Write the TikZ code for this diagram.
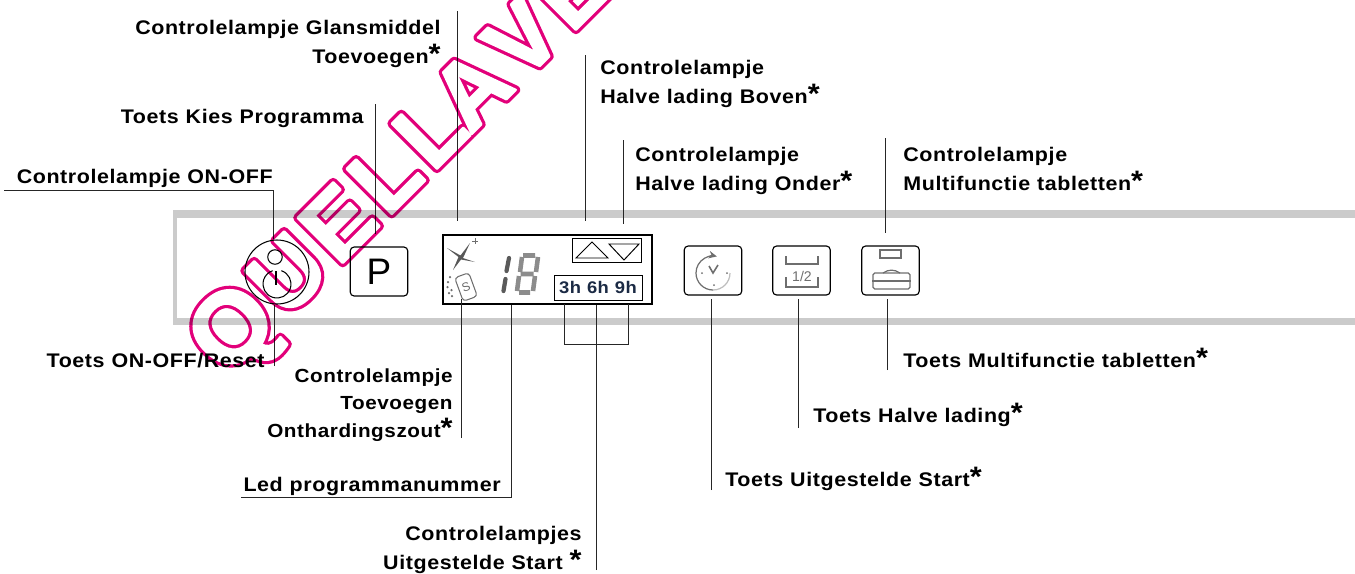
\documentclass[tikz,border=0pt]{standalone}
\usepackage{fontspec}
\setmainfont{Liberation Sans}
\newfontfamily\lblfont{Liberation Sans}[FakeStretch=1.09,LetterSpace=3,WordSpace=1.05]
\newfontfamily\wmfont{Liberation Sans}[Kerning=Off,LetterSpace=8]
\usetikzlibrary{arrows.meta,calc,fadings,positioning}
\definecolor{panelgray}{HTML}{CBCBCB}
\definecolor{icongray}{HTML}{6E6E6E}
\definecolor{segdark}{HTML}{5A5A5A}
\definecolor{seglight}{HTML}{8C8C8C}
\definecolor{hournavy}{HTML}{1B2A44}
\newcommand{\mstar}{\smash{\fontsize{16}{16}\selectfont *}}
\newcommand{\wmtext}[2]{\special{pdf:code q 2 Tr #1 w 1 j #2 RG #2 rg}{\fontsize{56.9}{56.9}\selectfont Q}\kern3pt UELL\kern-2pt AVE\special{pdf:code Q}}
\begin{document}
\begin{tikzpicture}[
    x=0.2mm,y=-0.2mm,
    lbl/.style={font=\lblfont\bfseries\fontsize{11.2}{16.4}\selectfont,inner sep=0pt},
    lblr/.style={lbl,anchor=base east,align=right},
    lbll/.style={lbl,anchor=base west,align=left},
    btn/.style={draw,rounded corners=2.2pt,line width=.65pt,inner sep=0pt,
      minimum width=11.5mm,minimum height=9.8mm},
    leader/.style={line width=.55pt,draw=black!85},
    bar/.style={fill=panelgray,draw=none},
    ico/.style={draw=icongray,line width=.7pt},
    seg/.style={line width=2.6pt,draw=seglight},
    segone/.style={line width=2.4pt,draw=segdark,line cap=round},
    wm/.style={rotate=45,anchor=base west,inner sep=0pt,font=\wmfont\bfseries\fontsize{52.7}{52.7}\selectfont}
  ]
    \useasboundingbox (0,0) rectangle (1355,573);
    % panel
    \fill[bar] (173,210) rectangle (1355,218);
    \fill[bar] (173,318) rectangle (1355,325);
    \fill[bar] (173,210) rectangle (176.5,325);

    % controls
    \node[circle,draw,line width=.6pt,minimum size=12.8mm,inner sep=0pt] (power) at (277,272) {};
    \node[circle,draw,line width=.6pt,minimum size=2.9mm,inner sep=0pt] (lamp) at (275,257) {};
    \coordinate (ring) at (277,284);
    \draw[line width=.6pt] ($(ring)+(72:2.8mm)$) arc[start angle=72,end angle=-252,radius=2.8mm];
    \draw[line width=.6pt] (276,271) -- (276,285);
    \node[btn,font=\fontsize{21}{21}\selectfont] (prog) at (379,271.5) {P};

    % display
    \node[draw,line width=.8pt,minimum width=41.8mm,minimum height=13.8mm,inner sep=0pt] (disp) at (547.5,269.5) {};
    \node[draw,line width=.5pt,minimum width=13.8mm,minimum height=4.8mm,inner sep=0pt] (arrows) at (606.5,250) {};
    \draw[line width=.55pt] (576,258) -- (592,242) -- (608,258) -- cycle;
    \draw[line width=.55pt] (609,244) -- (639,244) -- (624,260) -- cycle;
    \node[draw,line width=.5pt,minimum width=17.6mm,minimum height=5mm,inner sep=0pt,
      text=hournavy,font=\lblfont\bfseries\fontsize{9.6}{10}\selectfont] (hours) at (598,287.5) {3h 6h 9h};
    \fill[icongray!80!black] (447,248) -- (460.5,255.5) -- (470,243) -- (463,258) -- (475,262)
      -- (461,259.5) -- (453,270) -- (458.5,257) -- cycle;
    \draw[icongray,line width=.4pt] (475,238) -- (475,244) (472,241) -- (478,241);
    \node[draw=icongray,line width=.6pt,rounded corners=2pt,minimum width=3mm,minimum height=5mm,
      inner sep=0pt,rotate=20,font=\fontsize{7}{7}\selectfont,text=icongray] (salt) at (466,287) {S};
    \foreach \px/\py in {450/277,448/282,447.5/287,451.5/290,449/293,452/296}
      \fill[icongray] (\px,\py) circle (.25mm);
    \draw[segone] (509,258) -- (506.5,271);
    \draw[segone] (505.5,279) -- (503.5,291);
    \draw[seg] (523,255.5) -- (535,255.5) (538,257) -- (536,272) (535,276) -- (533,291)
      (530,292.5) -- (519,292.5) (517,291) -- (519,276) (520,272) -- (522,257) (520.5,274) -- (533.5,274);

    % right hand buttons
    \node[btn] (timer) at (713,270.5) {};
    \draw[ico,draw=icongray!45] (713,273)++(0:3.4mm) arc[start angle=0,end angle=-90,radius=3.4mm];
    \draw[ico,-{Stealth[length=1.6mm,width=1.5mm]}] (713,290) arc[start angle=-90,end angle=-283,radius=3.4mm];
    \draw[ico,line width=.9pt] (709,266) -- (713,273) -- (718,265);
    \foreach \px/\py in {702/273,727/273,714/285}
      \fill[icongray] (\px,\py) circle (.2mm);
    \node[btn] (half) at (801.5,270.5) {};
    \draw[ico] (786,256) -- (786,264) -- (818,264) -- (818,256);
    \draw[ico] (786,277) -- (786,287) -- (818,287) -- (818,277);
    \node[text=icongray,inner sep=0pt,font=\fontsize{8}{8}\selectfont] (frac) at (802,276) {1/2};
    \node[btn] (multi) at (890.5,270.5) {};
    \node[ico,draw,minimum width=4.2mm,minimum height=1.6mm,inner sep=0pt] (tablet) at (890.5,254) {};
    \node[ico,draw,rounded corners=1pt,minimum width=7.4mm,minimum height=3.2mm,inner sep=0pt] (case) at (891.5,281) {};
    \draw[ico] (case.west) -- (case.east);
    \draw[ico] (883,273) to[bend left=35] (900,273);

    % labels
    \node[lblr] (lglans) at (441,63) {Controlelampje Glansmiddel\\Toevoegen\mstar};
    \node[lblr] (lkies) at (364,123) {Toets Kies Programma};
    \node[lblr] (lon) at (273,183) {Controlelampje ON-OFF};
    \node[lblr] (lreset) at (265,367) {Toets ON-OFF/Reset};
    \node[lblr,font=\lblfont\bfseries\fontsize{10.8}{15.4}\selectfont] (lsalt) at (453,437) {Controlelampje\\Toevoegen\\Onthardingszout\mstar};
    \node[lblr] (lled) at (501,491) {Led programmanummer};
    \node[lblr] (lstart) at (582,569) {Controlelampjes\\Uitgestelde Start \mstar};
    \node[lbll] (lboven) at (600,103) {Controlelampje\\Halve lading Boven\mstar};
    \node[lbll] (londer) at (635,190) {Controlelampje\\Halve lading Onder\mstar};
    \node[lbll] (lmulti) at (903,190) {Controlelampje\\Multifunctie tabletten\mstar};
    \node[lbll] (ltoetsm) at (903,367) {Toets Multifunctie tabletten\mstar};
    \node[lbll] (ltoetsh) at (813,422) {Toets Halve lading\mstar};
    \node[lbll] (ltoetsu) at (725,486) {Toets Uitgestelde Start\mstar};

    % leaders
    \coordinate (eglans) at (457,11);
    \coordinate (ekies) at (375.7,104);
    \coordinate (eon) at (4,190);
    \coordinate (ereset) at (274.5,366);
    \coordinate (esalt) at (461,438);
    \coordinate (eled) at (241,497);
    \coordinate (ehours) at (596,570);
    \coordinate (eboven) at (585,55);
    \coordinate (eonder) at (623,140);
    \coordinate (emulti) at (885,138);
    \coordinate (etoetsm) at (887,370);
    \coordinate (etoetsh) at (798,428);
    \coordinate (etoetsu) at (711,490);
    \draw[leader,shorten >=2.6mm] (eglans) -- (eglans |- disp.north);
    \draw[leader,shorten >=2.4mm] (ekies) -- (ekies |- prog.north);
    \draw[leader] (eon) -| (power.north -| 273,0);
    \draw[leader] (ereset) -- (ereset |- power.south);
    \draw[leader] (esalt) -- (esalt |- salt.south);
    \draw[leader] (eled) -| (disp.south -| 511.5,0);
    \draw[leader] (ehours) -- (ehours |- disp.south);
    \draw[leader] (564,304) |- (628,344) -- (628,304);
    \draw[leader,shorten >=2.6mm] (eboven) -- (eboven |- disp.north);
    \draw[leader,shorten >=2mm] (eonder) -- (eonder |- disp.north);
    \draw[leader,shorten >=2.4mm] (emulti) -- (emulti |- multi.north);
    \draw[leader,shorten >=.6mm] (etoetsm) -- (etoetsm |- multi.south);
    \draw[leader,shorten >=.6mm] (etoetsh) -- (etoetsh |- half.south);
    \draw[leader,shorten >=.6mm] (etoetsu) -- (etoetsu |- timer.south);

    % watermark
    \begin{scope}[transparency group,blend mode=multiply]
      \node[wm] (wmark) at (226.9,378.7) {\wmtext{5.1}{0.886 0 0.478}};
      \node[wm] (wmfill) at (226.9,378.7) {\wmtext{1.4}{1 1 1}};
    \end{scope}
  \end{tikzpicture}
\end{document}
